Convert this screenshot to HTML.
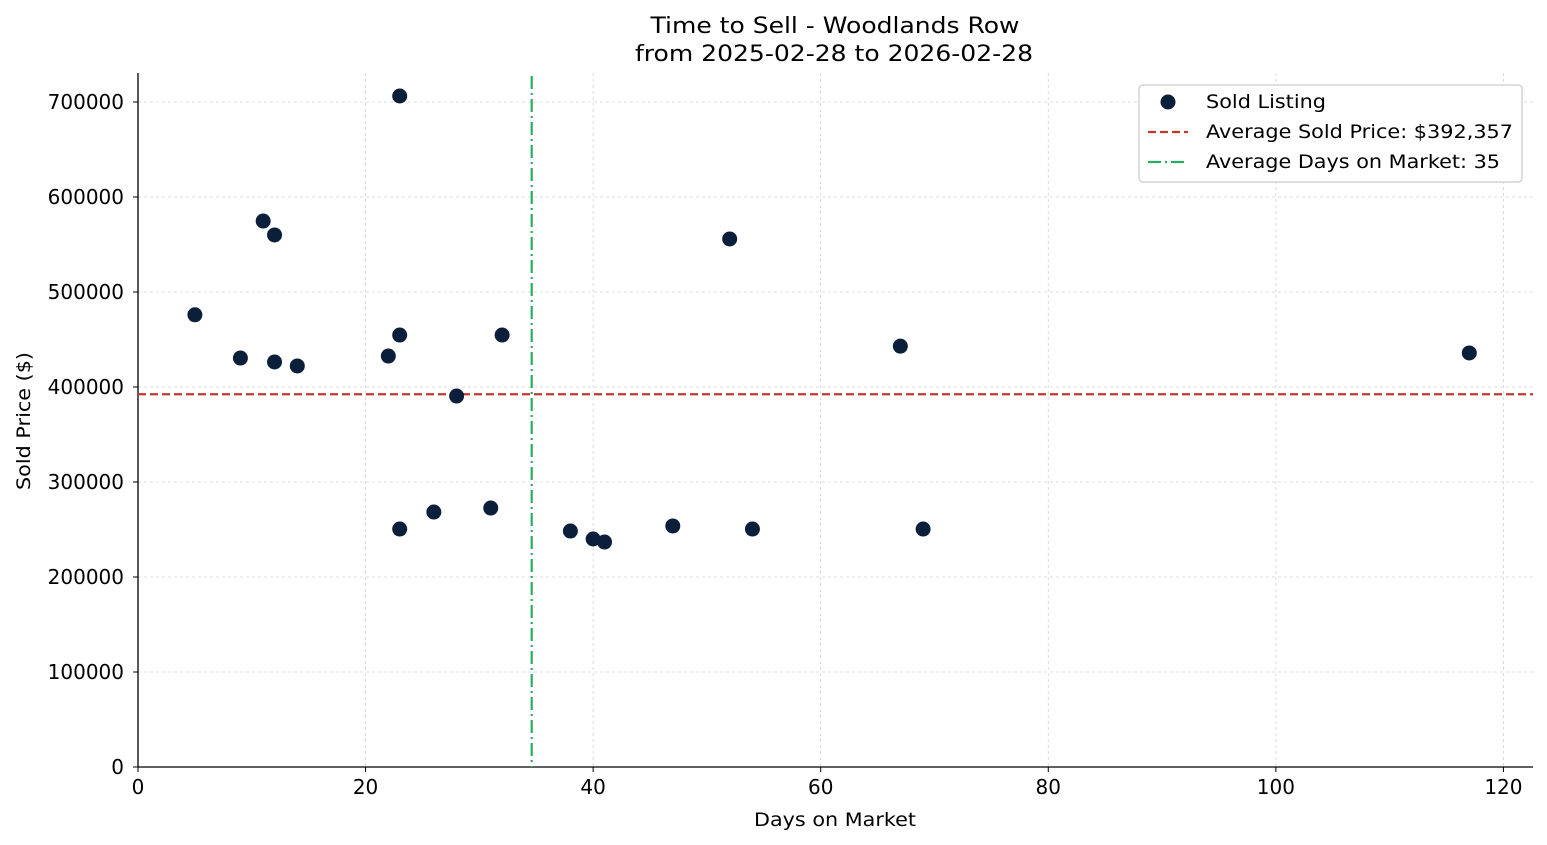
<!DOCTYPE html>
<html><head><meta charset="utf-8"><style>
html,body{margin:0;padding:0;background:#fff;}
svg{display:block;font-family:"DejaVu Sans","Liberation Sans",sans-serif;}
</style></head><body>
<svg id="chart" width="1547" height="845"></svg>
<script>
const days = [5,9,11,12,12,14,22,23,23,23,26,28,31,32,38,40,41,47,52,54,67,69,117];
const prices = [476000,430500,574700,560000,426300,422100,432600,706300,454700,250500,268400,390500,272600,454700,248400,240000,236800,253700,555800,250500,443000,250500,435800];
const avgPrice = 392357;
const avgDays = 34.6;
const xTicks = [0,20,40,60,80,100,120];
const yTicks = [0,100000,200000,300000,400000,500000,600000,700000];

const L=138,R=1533,T=73,B=767;
const xMax=122.6, yMax=730500;
const xs=v=>L+v/xMax*(R-L);
const ys=v=>B-v/yMax*(B-T);
const NS='http://www.w3.org/2000/svg';
const svg=document.getElementById('chart');
function mk(tag,attrs,parent){const e=document.createElementNS(NS,tag);for(const k in attrs)e.setAttribute(k,attrs[k]);(parent||svg).appendChild(e);return e;}

const grid=mk('g',{});


xTicks.forEach(t=>{if(t>0)mk('line',{x1:xs(t),x2:xs(t),y1:T,y2:B,stroke:'#d4d4d4','stroke-width':0.8,'stroke-dasharray':'3,3'},grid);});
yTicks.forEach(t=>{if(t>0)mk('line',{x1:L,x2:R,y1:ys(t),y2:ys(t),stroke:'#d4d4d4','stroke-width':0.8,'stroke-dasharray':'3,3'},grid);});

const ax=mk('g',{});


mk('line',{x1:L,x2:L,y1:T,y2:B,stroke:'#000','stroke-width':1.3},ax);
mk('line',{x1:L,x2:R,y1:B,y2:B,stroke:'#000','stroke-width':1.3},ax);
xTicks.forEach(t=>{mk('line',{x1:xs(t),x2:xs(t),y1:B,y2:B+5,stroke:'#000'},ax);
 const tx=mk('text',{x:xs(t),y:B+27,'text-anchor':'middle','font-size':20},ax);tx.textContent=t;
 
 });
yTicks.forEach(t=>{mk('line',{x1:L-5,x2:L,y1:ys(t),y2:ys(t),stroke:'#000'},ax);
 const tx=mk('text',{x:L-14,y:ys(t)+7,'text-anchor':'end','font-size':20},ax);tx.textContent=t;
 
 });

const hl=mk('line',{x1:L,x2:R,y1:ys(avgPrice),y2:ys(avgPrice),stroke:'#c0392b','stroke-width':2.2,'stroke-dasharray':'8,4'});


const vl=mk('line',{x1:xs(avgDays),x2:xs(avgDays),y1:T+3,y2:B,stroke:'#27ae60','stroke-width':2.2,'stroke-dasharray':'13,4,2,4'});



days.forEach((d,i)=>{const c=mk('circle',{cx:xs(d),cy:ys(prices[i]),r:7.5,fill:'#0b1f3a'});
 
 });

function txt(s,a,name){const t=mk('text',a);t.textContent=s;return t;}
txt('Time to Sell - Woodlands Row',{x:835,y:33,'text-anchor':'middle','font-size':22,textLength:369,lengthAdjust:'spacingAndGlyphs'},'chart-title');
txt('from 2025-02-28 to 2026-02-28',{x:834,y:61,'text-anchor':'middle','font-size':22,textLength:398,lengthAdjust:'spacingAndGlyphs'},'chart-subtitle');
txt('Days on Market',{x:835,y:826,'text-anchor':'middle','font-size':19,textLength:162,lengthAdjust:'spacingAndGlyphs'},'x-axis-title');
txt('Sold Price ($)',{x:0,y:0,'text-anchor':'middle','font-size':19,textLength:138,lengthAdjust:'spacingAndGlyphs',transform:'translate(30,421) rotate(-90)'},'y-axis-title');

const lg=mk('g',{});


mk('rect',{x:1139,y:85,width:383,height:97,rx:4,fill:'#fff',stroke:'#ccc','stroke-width':1.3},lg);
mk('circle',{cx:1168,cy:102,r:7.5,fill:'#0b1f3a'},lg);
mk('line',{x1:1148,x2:1188,y1:132,y2:132,stroke:'#c0392b','stroke-width':2.2,'stroke-dasharray':'8,4'},lg);
mk('line',{x1:1148,x2:1188,y1:162,y2:162,stroke:'#27ae60','stroke-width':2.2,'stroke-dasharray':'13,4,2,4'},lg);
[['Sold Listing',108,120],['Average Sold Price: $392,357',138,307],['Average Days on Market: 35',168,294]].forEach(([s,y,w])=>{
 const t=mk('text',{x:1206,y:y,'font-size':19,textLength:w,lengthAdjust:'spacingAndGlyphs'},lg);t.textContent=s;
 
 });
</script>
</body></html>
